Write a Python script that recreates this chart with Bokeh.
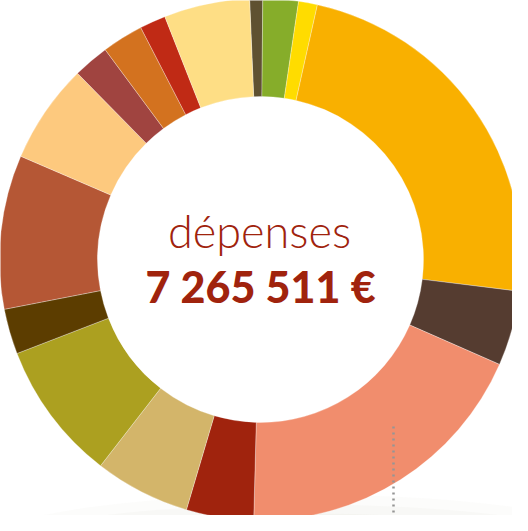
from bokeh.plotting import figure
from bokeh.models import Range1d, Label, ColumnDataSource
from bokeh.embed import file_html
from bokeh.resources import INLINE
import numpy as np

# ---- data ----
categories = ["poste 1", "poste 2", "poste 3", "poste 4", "poste 5", "poste 6",
              "poste 7", "poste 8", "poste 9", "poste 10", "poste 11", "poste 12",
              "poste 13", "poste 14", "poste 15", "poste 16"]
amounts = [58500, 159400, 84800, 1703400, 337000, 1368300, 302700, 429900,
           627700, 203800, 692200, 448000, 161500, 185700, 117100, 385511]
colors = ["#5f5131", "#86ad2a", "#ffdc00", "#f9b000", "#553c30", "#f18d6d",
          "#a0230d", "#d3b56a", "#aca020", "#5c3d00", "#b55735", "#fdc97e",
          "#a04440", "#d3721f", "#c02a15", "#fede85"]
title_text = "dépenses"
total_text = "7 265 511 €"

# ---- geometry (pixel-like data space, y up) ----
W, H = 512, 515
CX, CY = 268, 531 - 267
R_OUT, R_IN = 261, 163
START = -2.4  # degrees clockwise from top

total = float(sum(amounts))
frac = np.array(amounts) / total
cum = np.concatenate([[0], np.cumsum(frac)]) * 360.0 + START
th1 = cum[:-1]
th2 = cum[1:]
start_angle = np.radians(90 - th2)
end_angle = np.radians(90 - th1)

src = ColumnDataSource(dict(cat=categories, amount=amounts, color=colors,
                            start=start_angle, end=end_angle))

p = figure(width=W, height=H, output_backend="svg", toolbar_location=None,
           x_range=Range1d(8, 8 + W), y_range=Range1d(531 - 8 - H, 531 - 8),
           min_border=0, outline_line_color=None)
p.axis.visible = False
p.grid.visible = False
p.background_fill_color = "white"
p.border_fill_color = "white"

# soft shadow under the ring
for w, h, a in [(640, 100, 0.06), (580, 80, 0.07), (520, 62, 0.08), (460, 46, 0.09)]:
    p.ellipse(x=[310], y=[531 - 552], width=[w], height=[h],
              fill_color="#c9c7b8", fill_alpha=a, line_color=None)

p.annular_wedge(x=CX, y=CY, inner_radius=R_IN, outer_radius=R_OUT,
                start_angle="start", end_angle="end", direction="anticlock",
                fill_color="color", line_color="white", line_width=0.5,
                line_alpha=0.6, source=src)

# dotted leader line
p.segment(x0=[401], y0=[531 - 434], x1=[401], y1=[0],
          line_color="#959595", line_width=2.5, line_dash="2 4")

p.add_layout(Label(x=267, y=531 - 238, text=title_text, text_align="center",
                   text_baseline="alphabetic", text_font="Lato Light",
                   text_font_size="45px", text_color="#a0230d"))
p.add_layout(Label(x=268, y=531 - 294, text=total_text, text_align="center",
                   text_baseline="alphabetic", text_font="Lato Black",
                   text_font_size="43px", text_color="#a0230d"))

open("out.html", "w").write(file_html(p, INLINE))
